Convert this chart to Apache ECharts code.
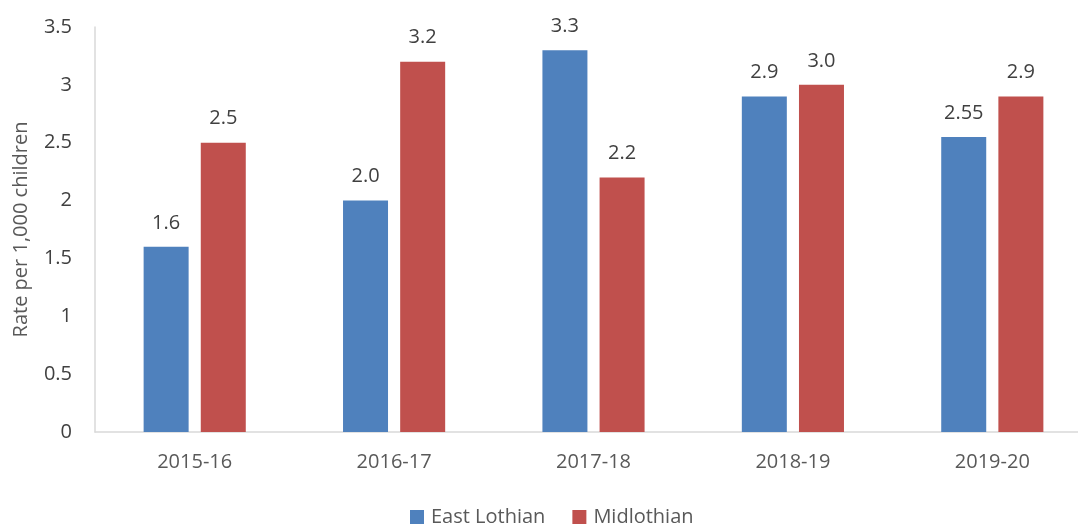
<!DOCTYPE html>
<html lang="en">
<head>
    <meta charset="UTF-8">
    <title>Rate per 1,000 children</title>
    <script src="https://cdn.jsdelivr.net/npm/echarts@6/dist/echarts.min.js"></script>
</head>
<body style="margin:0">
    <div id="main" style="height:525px; width:1078px"></div>
    <script>
        var years = ['2015-16', '2016-17', '2017-18', '2018-19', '2019-20']
        var eastLothian = [1.6, 2.0, 3.3, 2.9, 2.55]
        var midlothian = [2.5, 3.2, 2.2, 3.0, 2.9]

        var font = 'Open Sans'
        var fs = 20
        // one decimal unless the value needs more (2.55)
        function fmt(p) {
            var v = p.value
            return Math.round(v * 10) / 10 === v ? v.toFixed(1) : String(v)
        }

        var myChart = echarts.init(document.getElementById('main'))
        var option = {
            animation: false,
            textStyle: { fontFamily: font },
            // plot area runs past the right edge, like the original
            grid: { left: 95, right: -14, top: 27, bottom: 93, outerBoundsMode: 'none' },
            legend: {
                bottom: -7,
                left: 405,
                itemWidth: 14,
                itemHeight: 14,
                itemGap: 27,
                icon: 'rect',
                textStyle: { fontSize: fs, color: '#595959', fontFamily: font, padding: [0, 0, 0, 2] }
            },
            xAxis: {
                type: 'category',
                data: years,
                axisLine: { lineStyle: { color: '#d9d9d9', width: 1.5 } },
                axisTick: { show: false },
                axisLabel: { fontSize: fs, color: '#595959', margin: 20 }
            },
            yAxis: {
                type: 'value',
                min: 0,
                max: 3.5,
                interval: 0.5,
                name: 'Rate per 1,000 children',
                nameLocation: 'middle',
                nameGap: 64,
                nameTextStyle: { fontSize: fs, color: '#595959' },
                axisLine: { show: true, lineStyle: { color: '#d9d9d9', width: 1.5 } },
                splitLine: { show: false },
                axisLabel: { fontSize: fs, color: '#404040', margin: 23 }
            },
            series: [{
                name: 'East Lothian',
                type: 'bar',
                data: eastLothian,
                barWidth: 45,
                barGap: '27%',
                itemStyle: { color: '#4F81BD' },
                label: { show: true, position: 'top', distance: 14, fontSize: fs, color: '#404040', formatter: fmt }
            }, {
                name: 'Midlothian',
                type: 'bar',
                data: midlothian,
                barWidth: 45,
                itemStyle: { color: '#C0504D' },
                label: { show: true, position: 'top', distance: 14, fontSize: fs, color: '#404040', formatter: fmt }
            }]
        }
        myChart.setOption(option)
    </script>
</body>
</html>
